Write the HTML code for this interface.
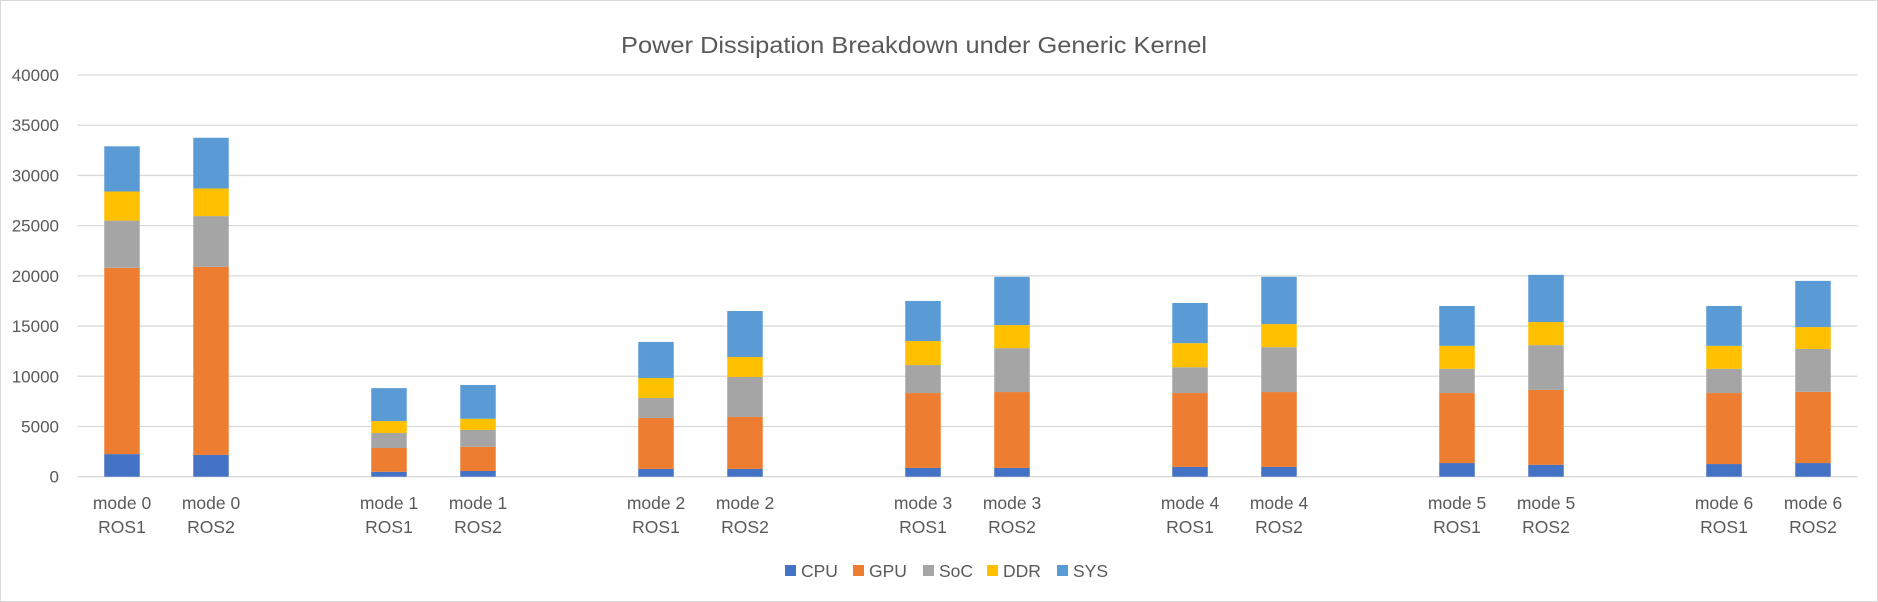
<!DOCTYPE html>
<html><head><meta charset="utf-8"><style>
html,body{margin:0;padding:0;background:#fff}
svg{display:block;font-family:"Liberation Sans",sans-serif}
</style></head><body>
<svg id="chart" width="1878" height="602" viewBox="0 0 1878 602" xmlns="http://www.w3.org/2000/svg">
<rect x="0.5" y="0.5" width="1877" height="601" fill="#fff" stroke="#d9d9d9"/>
<text x="621" y="53" font-size="23" fill="#595959" textLength="586" lengthAdjust="spacingAndGlyphs">Power Dissipation Breakdown under Generic Kernel</text>
<g id="grid"></g><g id="bars"></g><g id="xlabels"></g>
<g id="legend"></g>
</svg>
<script>
const categories = ["mode 0|ROS1","mode 0|ROS2","mode 1|ROS1","mode 1|ROS2","mode 2|ROS1","mode 2|ROS2","mode 3|ROS1","mode 3|ROS2","mode 4|ROS1","mode 4|ROS2","mode 5|ROS1","mode 5|ROS2","mode 6|ROS1","mode 6|ROS2"];
const seriesNames = ["CPU","GPU","SoC","DDR","SYS"];
const cpu = [2250,2170,490,570,770,770,870,870,970,970,1360,1180,1260,1360];
const gpu = [18550,18730,2370,2410,5080,5180,7460,7560,7360,7460,6970,7460,7070,7090];
const soc = [4700,5050,1490,1680,1990,3980,2790,4370,2570,4470,2410,4460,2410,4270];
const ddr = [2900,2750,1190,1110,1990,1990,2390,2300,2400,2300,2290,2300,2290,2180];
const sys = [4500,5050,3280,3360,3590,4580,3990,4800,4000,4700,3970,4700,3970,4600];
const yTicks = [0,5000,10000,15000,20000,25000,30000,35000,40000];
const colors = ["#4472c4","#ed7d31","#a5a5a5","#ffc000","#5b9bd5"];
const series = [cpu,gpu,soc,ddr,sys];

const NS="http://www.w3.org/2000/svg";
const plotL=77.5, plotR=1857.5, y0=476.7, yTop=75, yMax=40000;
const slotW=(plotR-plotL)/20, barW=35.5;
function y(v){return y0-(v/yMax)*(y0-yTop);}
function xc(i){const g=Math.floor(i/2), r=i%2; return plotL+slotW*(g*3+r)+slotW/2;}
function mk(tag,attrs,parent){const e=document.createElementNS(NS,tag);for(const k in attrs)e.setAttribute(k,attrs[k]);parent.appendChild(e);return e;}

const grid=document.getElementById('grid');
yTicks.forEach(t=>{
  const l=mk('line',{x1:plotL,x2:plotR,y1:y(t),y2:y(t),stroke:"#d9d9d9","stroke-width":1.3},grid);
  
  
  const tx=mk('text',{x:59,y:y(t)+6,"text-anchor":"end","font-size":17,fill:"#595959"},grid);
  tx.textContent=t;
  
  
});

const bars=document.getElementById('bars');
categories.forEach((c,i)=>{
  let acc=0;
  series.forEach((s,k)=>{
    const v=s[i];
    const r=mk('rect',{x:xc(i)-barW/2,y:y(acc+v),width:barW,height:y(acc)-y(acc+v),fill:colors[k]},bars);
    
    
    acc+=v;
  });
  const parts=c.split('|');
  const xl=document.getElementById('xlabels');
  parts.forEach((p,j)=>{
    const t=mk('text',{x:xc(i),y:509+j*24,"text-anchor":"middle","font-size":17.5,fill:"#595959"},xl);
    t.textContent=p;
    
    
  });
});

const legend=document.getElementById('legend');
const legX=[785,853,923,987,1057];
seriesNames.forEach((n,k)=>{
  const g=mk('g',{},legend);
  
  
  mk('rect',{x:legX[k],y:565,width:11,height:11,fill:colors[k]},g);
  const t=mk('text',{x:legX[k]+16,y:577,"font-size":17.5,fill:"#595959"},g);
  t.textContent=n;
});
</script>
</body></html>
